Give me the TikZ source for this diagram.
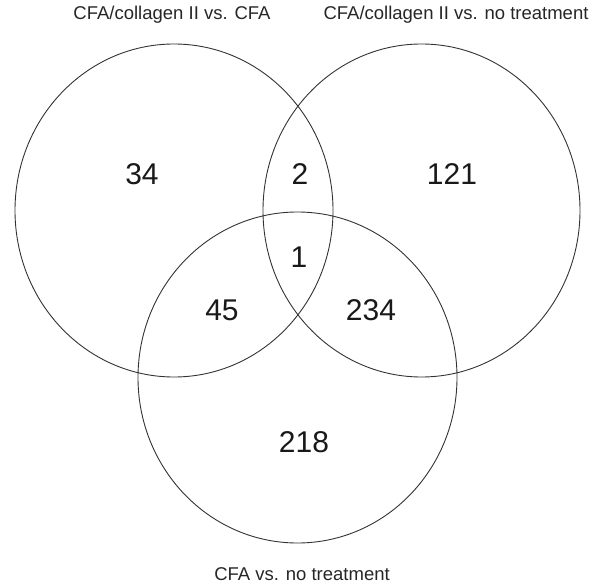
\documentclass[tikz,border=0pt]{standalone}
\usepackage{fontspec}
\setmainfont{Liberation Sans}
\begin{document}
\begin{tikzpicture}[x=1pt,y=-1pt,
  setcirc/.style={draw=black!80,line width=0.9pt},
  count/.style={anchor=base,inner sep=0pt,font=\fontsize{30}{32}\selectfont,text=black!90},
  setlabel/.style={anchor=base,inner sep=0pt,font=\fontsize{18.5}{20}\selectfont,text=black!85}]
\useasboundingbox (0,0) rectangle (600,588);
\draw[setcirc] (174,210.5) ellipse [x radius=159, y radius=166.5];
\draw[setcirc] (421.5,210.5) ellipse [x radius=158.5, y radius=166.5];
\draw[setcirc] (297.5,377.5) ellipse [x radius=159.5, y radius=165.5];
\node[setlabel] (la) at (172,19.5) {CFA/collagen II vs. CFA};
\node[setlabel] (lb) at (456,19.5) {CFA/collagen II vs. no treatment};
\node[setlabel] (lc) at (302,580) {CFA vs. no treatment};
\node[count] (n34) at (142,185) {34};
\node[count] (n2) at (300,185) {2};
\node[count] (n121) at (452,185) {121};
\node[count] (n1) at (299,268) {1};
\node[count] (n45) at (222,320) {45};
\node[count] (n234) at (371,320) {234};
\node[count] (n218) at (304,452.5) {218};
\end{tikzpicture}
\end{document}
